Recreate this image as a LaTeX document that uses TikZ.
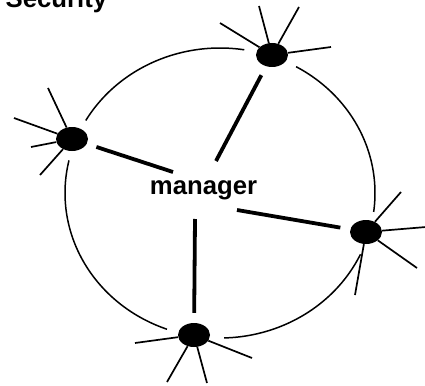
\documentclass[tikz,border=0pt]{standalone}
\usepackage{fontspec}
\setmainfont{Liberation Sans}
\usetikzlibrary{shapes.geometric}
\begin{document}
\begin{tikzpicture}[x=1pt,y=-1pt,
  station/.style={ellipse,fill=black,draw=none,inner sep=0pt,minimum width=32pt,minimum height=24pt},
  spoke/.style={line width=1.7pt},
  ring/.style={line width=1.5pt},
  link/.style={line width=3.8pt,shorten <=10pt},
  label/.style={font=\fontsize{25.7}{30}\selectfont\bfseries,inner sep=0pt}]
\useasboundingbox (0,0) rectangle (425,385);
% title
\node[label,anchor=base west] (title) at (5.5,7.5) {Security};
% manager
\node[label,anchor=base] (mgr) at (203.5,194) {manager};
\coordinate (mT) at ([shift={(12.5,-33)}]mgr.base);
\coordinate (mL) at ([shift={(-30.5,-22)}]mgr.base);
\coordinate (mR) at ([shift={(33.5,16)}]mgr.base);
\coordinate (mB) at ([shift={(-8.5,25)}]mgr.base);
% stations
\node[station] (T) at (272,55) {};
\node[station] (L) at (72,139) {};
\node[station] (R) at (366,232) {};
\node[station] (B) at (194,335) {};
% ring arcs
\draw[ring] plot[domain=-150:-81,samples=60,smooth] ({220+155*cos(\x)},{193+145*sin(\x)});
\draw[ring] plot[domain=-60.6:7.5,samples=60,smooth] ({220+155*cos(\x)},{193+145*sin(\x)});
\draw[ring] plot[domain=25:88.5,samples=60,smooth] ({220+155*cos(\x)},{193+145*sin(\x)});
\draw[ring] plot[domain=110:193,samples=60,smooth] ({220+155*cos(\x)},{193+145*sin(\x)});
% links to manager
\draw[link] (T) -- (mT);
\draw[link] (L) -- (mL);
\draw[link] (R) -- (mR);
\draw[link] (B) -- (mB);
% spoke ends
\coordinate (t1) at (259,6);
\coordinate (t2) at (299,7);
\coordinate (t3) at (220,23);
\coordinate (t4) at (331,47);
\coordinate (l1) at (48,88);
\coordinate (l2) at (14,118);
\coordinate (l3) at (31,147);
\coordinate (l4) at (40,175);
\coordinate (r1) at (401,192);
\coordinate (r2) at (426,227);
\coordinate (r3) at (417,268);
\coordinate (r4) at (355,295);
\coordinate (b1) at (135,343);
\coordinate (b2) at (167,382);
\coordinate (b3) at (207,383);
\coordinate (b4) at (252,358);
\foreach \e in {t1,t2,t3,t4} \draw[spoke] (T) -- (\e);
\foreach \e in {l1,l2,l3,l4} \draw[spoke] (L) -- (\e);
\foreach \e in {r1,r2,r3,r4} \draw[spoke] (R) -- (\e);
\foreach \e in {b1,b2,b3,b4} \draw[spoke] (B) -- (\e);
\end{tikzpicture}
\end{document}
